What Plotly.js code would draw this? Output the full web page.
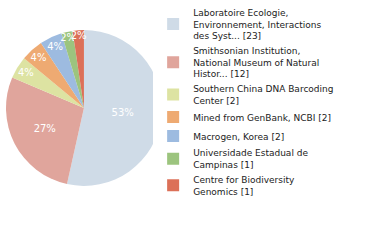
<!DOCTYPE html>
<html>
<head>
<meta charset="utf-8">
<script src="https://cdn.plot.ly/plotly-3.0.1.min.js"></script>
<style>html,body{margin:0;padding:0;background:#fff;}#chart{width:380px;height:240px;}</style>
</head>
<body>
<div id="chart"></div>
<script>
const categories = [
  "Laboratoire Ecologie,<br>Environnement, Interactions<br>des Syst... [23]",
  "Smithsonian Institution,<br>National Museum of Natural<br>Histor... [12]",
  "Southern China DNA Barcoding<br>Center [2]",
  "Mined from GenBank, NCBI [2]",
  "Macrogen, Korea [2]",
  "Universidade Estadual de<br>Campinas [1]",
  "Centre for Biodiversity<br>Genomics [1]"
];
const counts = [23, 12, 2, 2, 2, 1, 1];
const colors = ["#cfdbe7", "#e0a59c", "#dde3a2", "#eeaa72", "#9dbbe0", "#9cc47e", "#dc7058"];

const total = counts.reduce((a, b) => a + b, 0);
const pctText = counts.map(v => Math.floor(v / total * 100) + "%");

const trace = {
  type: "pie",
  labels: categories,
  values: counts,
  text: pctText,
  textinfo: "text",
  textposition: "inside",
  insidetextorientation: "horizontal",
  insidetextfont: {color: "#ffffff", size: 10, family: "DejaVu Sans"},
  sort: false,
  direction: "clockwise",
  rotation: 0,
  marker: {colors: colors, line: {color: "#ffffff", width: 0}},
  domain: {x: [0.0158, 0.426], y: [0.225, 0.875]},
  hoverinfo: "none"
};

const layout = {
  width: 380,
  height: 240,
  margin: {l: 0, r: 0, t: 0, b: 0},
  paper_bgcolor: "#ffffff",
  showlegend: true,
  uniformtext: {mode: "show", minsize: 10},
  legend: {
    x: 0.403, y: 1.0, xanchor: "left", yanchor: "top",
    font: {family: "DejaVu Sans", size: 9, color: "#222222"},
    itemwidth: 30,
    tracegroupgap: 0
  }
};

Plotly.newPlot("chart", [trace], layout, {staticPlot: true});
</script>
</body>
</html>
